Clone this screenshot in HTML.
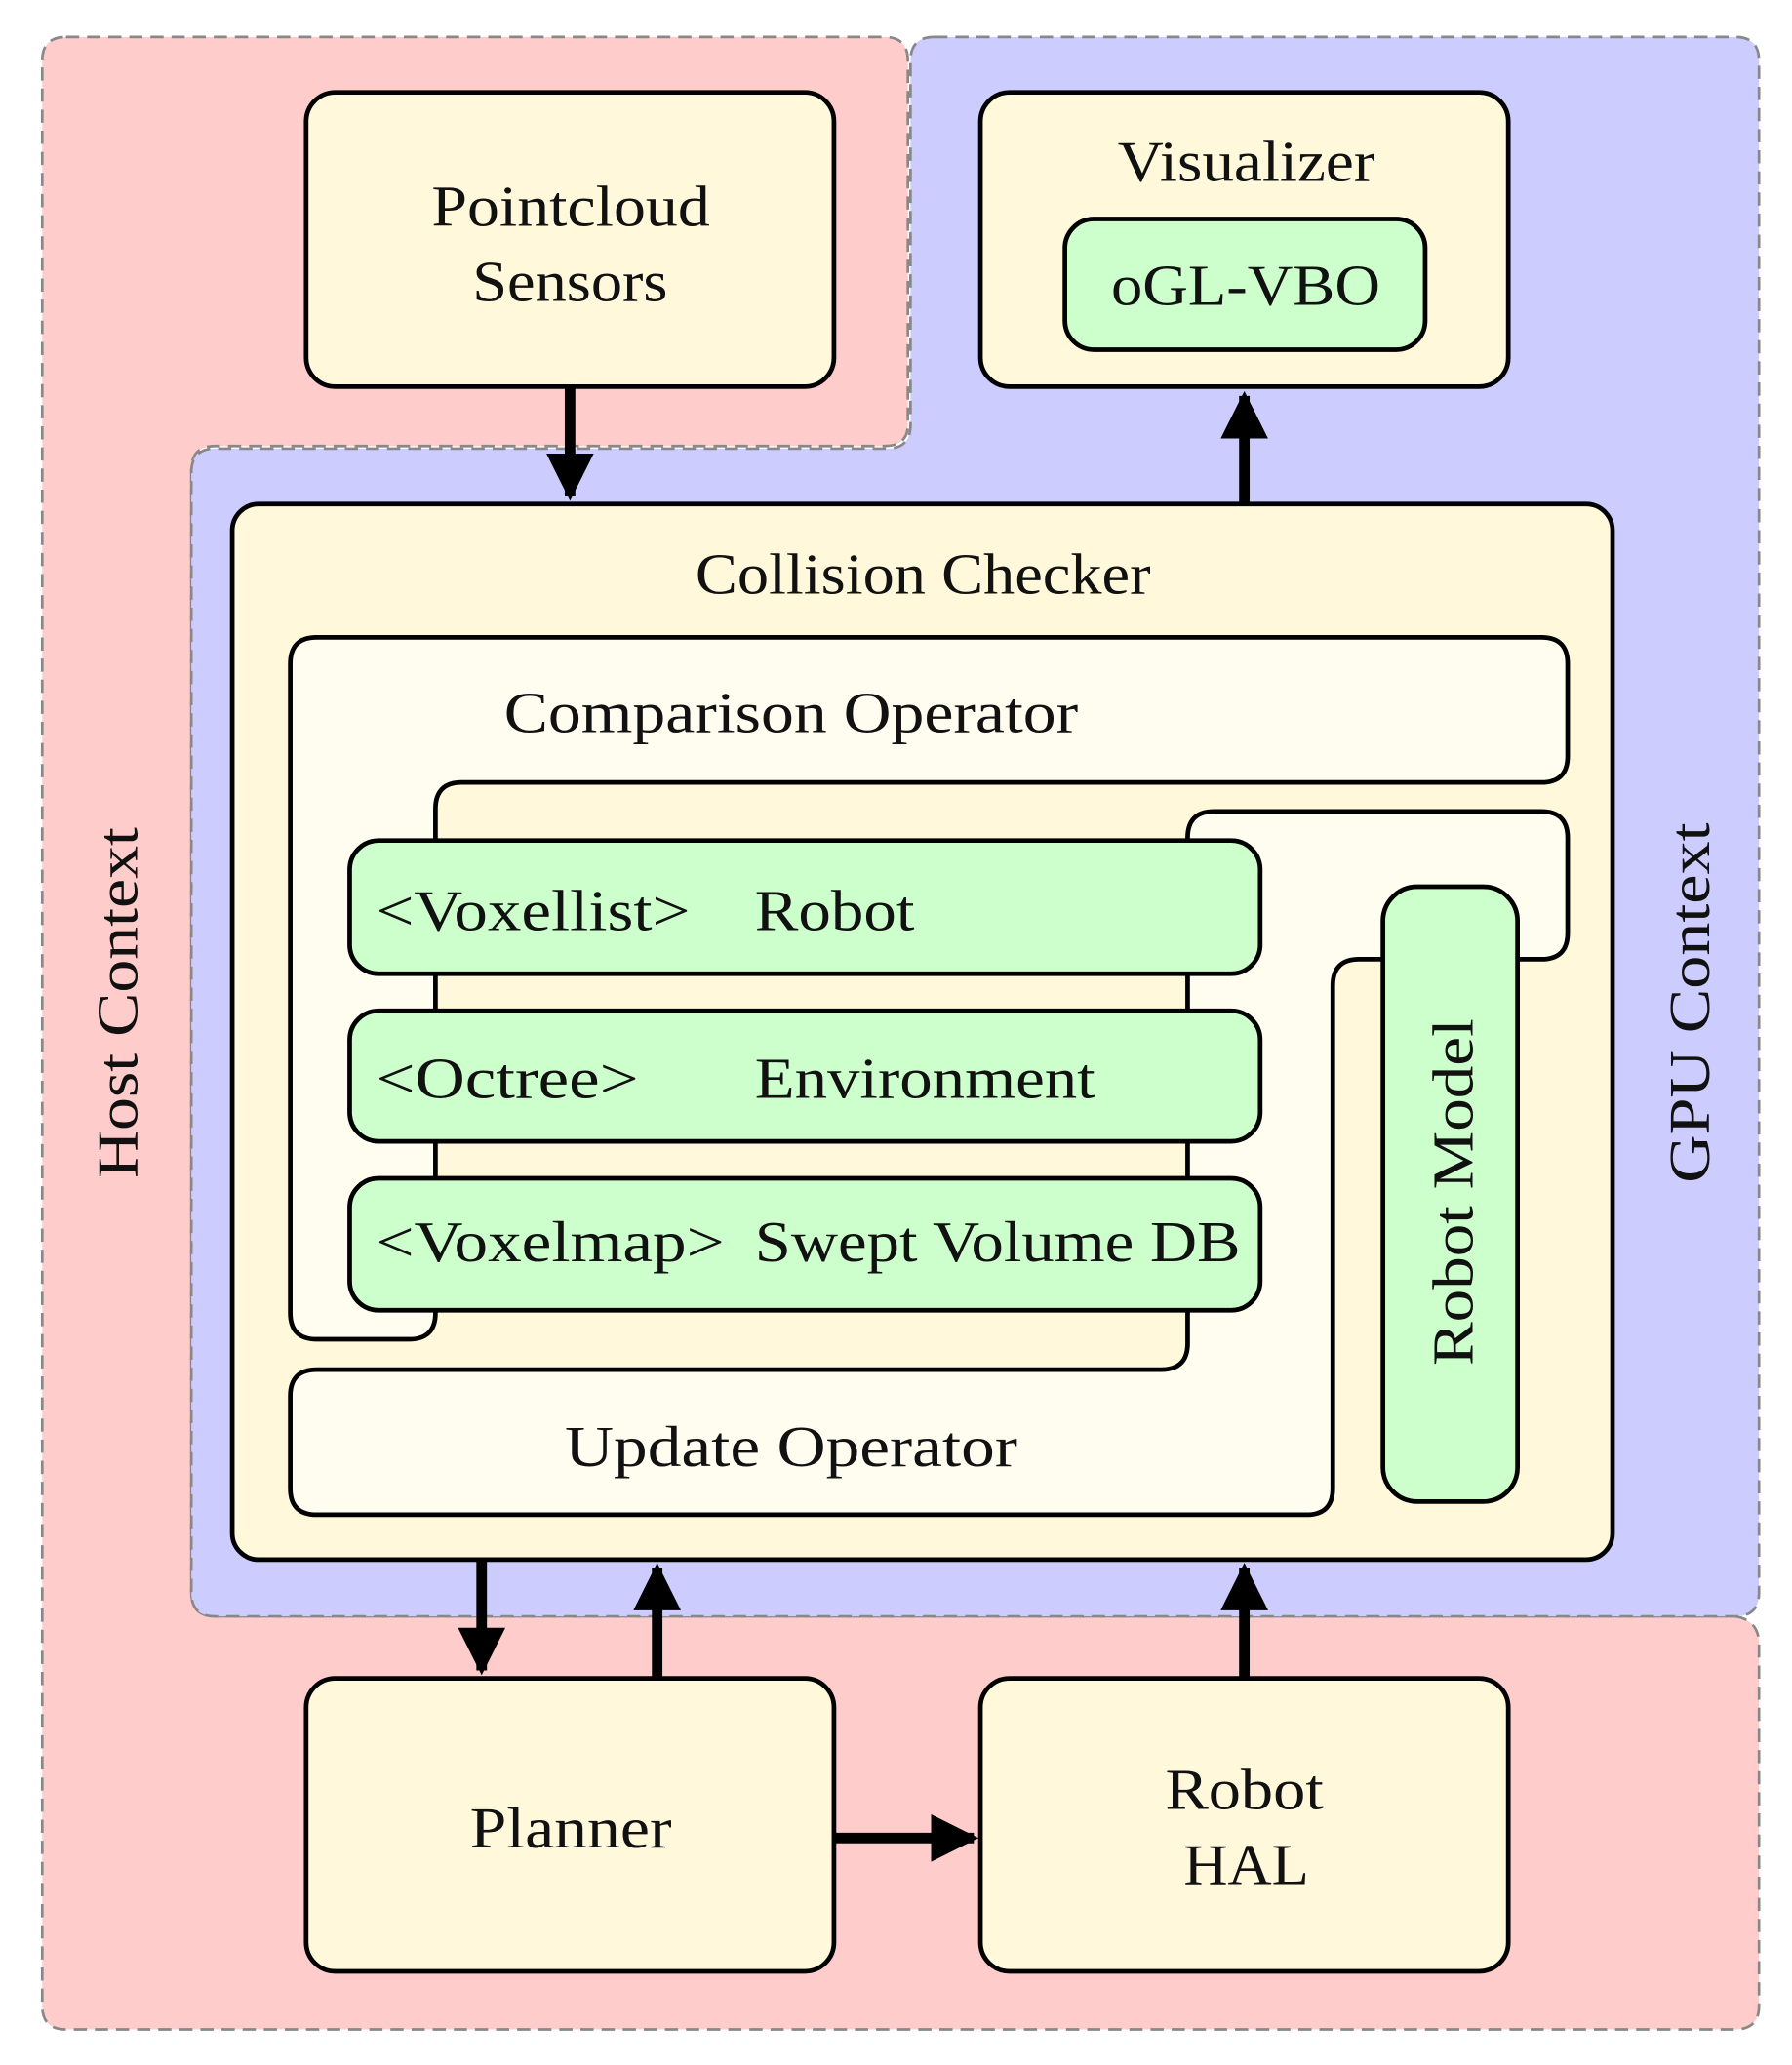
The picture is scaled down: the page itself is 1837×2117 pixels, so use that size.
<!DOCTYPE html>
<html><head><meta charset="utf-8"><style>
html,body{margin:0;padding:0;background:#fff;}
svg{display:block;}
text{font-family:"Liberation Serif",serif;fill:#111;}
</style></head><body>
<svg width="1837" height="2117" viewBox="0 0 1358 1565" preserveAspectRatio="none" xmlns="http://www.w3.org/2000/svg">
<defs>
<marker id="ah" viewBox="0 0 10 10" refX="9" refY="5" markerWidth="4.5" markerHeight="4.5" orient="auto" markerUnits="strokeWidth">
<path d="M0,0 L10,5 L0,10 z" fill="#000"/></marker>
</defs>
<path d="M50,28 H670 Q688,28 688,46 V322 Q688,338 670,338 H163 Q145,338 145,356 V1207 Q145,1225 163,1225 H1315 Q1333,1228 1333,1246 V1520 Q1333,1538 1315,1538 H50 Q32,1538 32,1520 V46 Q32,28 50,28 Z" fill="#ffcccc" stroke="#888" stroke-width="2" stroke-dasharray="10,6"/>
<path d="M708,28 H1315 Q1333,28 1333,46 V1207 Q1333,1225 1315,1225 H163 Q145,1225 145,1207 V358 Q145,340 163,340 H672 Q690,340 690,322 V46 Q690,28 708,28 Z" fill="#ccccff" stroke="#888" stroke-width="2" stroke-dasharray="10,6"/>
<g font-size="44" lengthAdjust="spacingAndGlyphs">
<text transform="translate(104,760) rotate(-90)" text-anchor="middle" textLength="266" lengthAdjust="spacingAndGlyphs">Host Context</text>
<text transform="translate(1295,760) rotate(-90)" text-anchor="middle" textLength="273" lengthAdjust="spacingAndGlyphs">GPU Context</text>
</g>

<g stroke="#000" stroke-width="8" fill="none">
<line x1="432" y1="293" x2="432" y2="376" marker-end="url(#ah)"/>
<line x1="943" y1="382" x2="943" y2="300" marker-end="url(#ah)"/>
<line x1="365" y1="1182" x2="365" y2="1266" marker-end="url(#ah)"/>
<line x1="498" y1="1272" x2="498" y2="1188" marker-end="url(#ah)"/>
<line x1="943" y1="1272" x2="943" y2="1188" marker-end="url(#ah)"/>
<line x1="632" y1="1393" x2="738" y2="1393" marker-end="url(#ah)"/>
</g>

<g stroke="#000" stroke-width="3.5">
<rect x="232" y="70" width="400" height="223" rx="22" fill="#fff8da"/>
<rect x="743" y="70" width="400" height="223" rx="22" fill="#fff8da"/>
<rect x="807" y="166" width="273" height="99" rx="22" fill="#ccffcc"/>
<rect x="176" y="382" width="1046" height="800" rx="20" fill="#fff8da"/>
<rect x="330" y="593" width="570" height="444" rx="20" fill="#fff8da" stroke="none"/>
<path d="M240,483 H1168 Q1188,483 1188,503 V573 Q1188,593 1168,593 H350 Q330,593 330,613 V995 Q330,1015 310,1015 H240 Q220,1015 220,995 V503 Q220,483 240,483 Z" fill="#fffcf0"/>
<path d="M920,615 H1168 Q1188,615 1188,635 V707 Q1188,727 1168,727 H1030 Q1010,727 1010,747 V1128 Q1010,1148 990,1148 H240 Q220,1148 220,1128 V1058 Q220,1038 240,1038 H880 Q900,1038 900,1018 V635 Q900,615 920,615 Z" fill="#fffcf0"/>
<rect x="265" y="637" width="690" height="101" rx="22" fill="#ccffcc"/>
<rect x="265" y="766" width="690" height="99" rx="22" fill="#ccffcc"/>
<rect x="265" y="893" width="690" height="100" rx="22" fill="#ccffcc"/>
<rect x="1048" y="672" width="102" height="466" rx="26" fill="#ccffcc"/>
<rect x="232" y="1272" width="400" height="222" rx="22" fill="#fff8da"/>
<rect x="743" y="1272" width="400" height="222" rx="22" fill="#fff8da"/>
</g>

<g font-size="44">
<text x="327" y="171" textLength="211" lengthAdjust="spacingAndGlyphs">Pointcloud</text>
<text x="358" y="228" textLength="148" lengthAdjust="spacingAndGlyphs">Sensors</text>
<text x="847" y="137" textLength="195" lengthAdjust="spacingAndGlyphs">Visualizer</text>
<text x="842" y="231" textLength="204" lengthAdjust="spacingAndGlyphs">oGL-VBO</text>
<text x="527" y="450" textLength="345" lengthAdjust="spacingAndGlyphs">Collision Checker</text>
<text x="382" y="555" textLength="435" lengthAdjust="spacingAndGlyphs">Comparison Operator</text>
<text x="428" y="1111" textLength="343" lengthAdjust="spacingAndGlyphs">Update Operator</text>
<text x="356" y="1400" textLength="153" lengthAdjust="spacingAndGlyphs">Planner</text>
<text x="883" y="1371" textLength="120" lengthAdjust="spacingAndGlyphs">Robot</text>
<text x="897" y="1428" textLength="95" lengthAdjust="spacingAndGlyphs">HAL</text>
<text transform="translate(1116,1035) rotate(-90)" textLength="263" lengthAdjust="spacingAndGlyphs">Robot Model</text>
<text x="285" y="705" textLength="238" lengthAdjust="spacingAndGlyphs">&lt;Voxellist&gt;</text>
<text x="572" y="705" textLength="121" lengthAdjust="spacingAndGlyphs">Robot</text>
<text x="285" y="832" textLength="199" lengthAdjust="spacingAndGlyphs">&lt;Octree&gt;</text>
<text x="572" y="832" textLength="258" lengthAdjust="spacingAndGlyphs">Environment</text>
<text x="285" y="956" textLength="264" lengthAdjust="spacingAndGlyphs">&lt;Voxelmap&gt;</text>
<text x="572" y="956" textLength="368" lengthAdjust="spacingAndGlyphs">Swept Volume DB</text>
</g>
</svg>
</body></html>
